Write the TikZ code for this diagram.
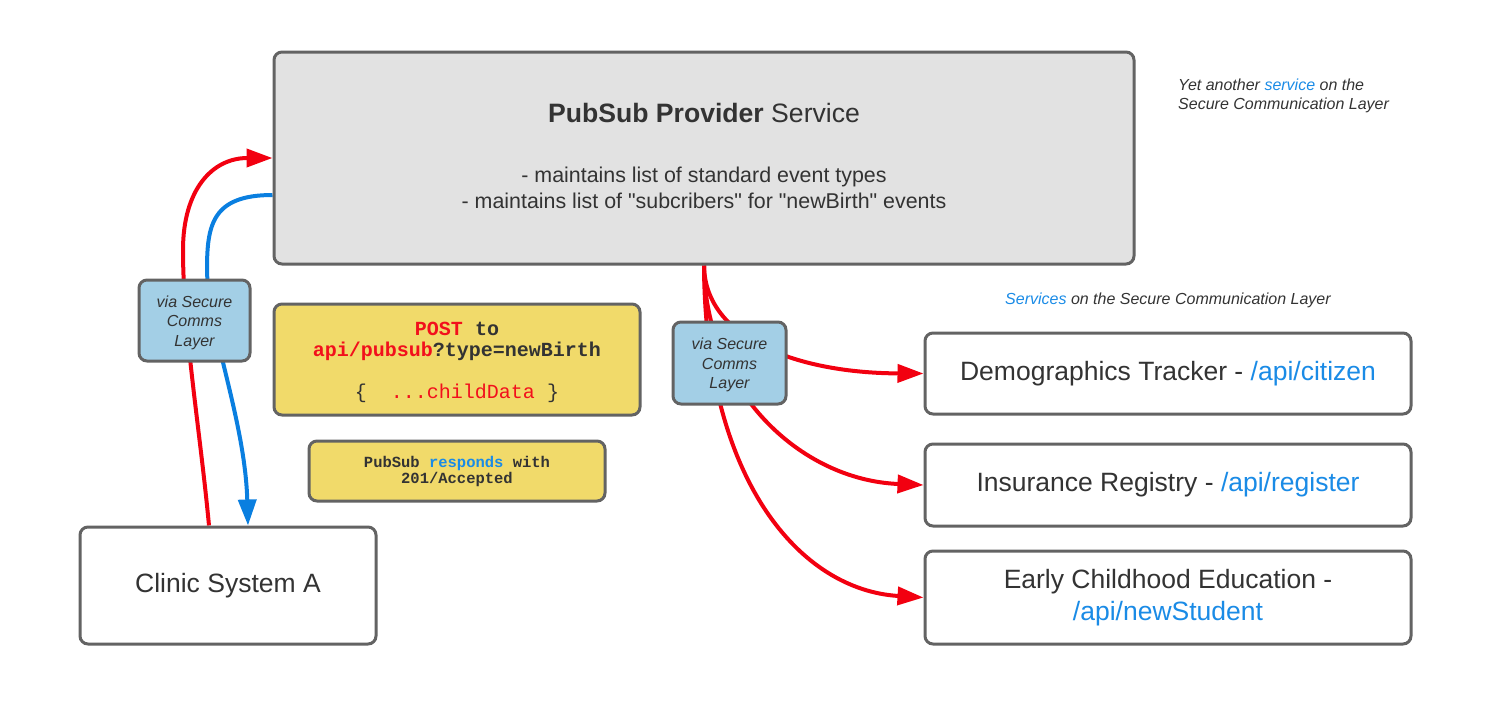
\documentclass[tikz,border=0pt]{standalone}
\usepackage{fontspec}
\setmainfont{Liberation Sans}[Ligatures=TeXOff]
\setmonofont{Liberation Mono}
\usetikzlibrary{arrows.meta}
\definecolor{boxline}{HTML}{636363}
\definecolor{greyfill}{HTML}{E2E2E2}
\definecolor{bluefill}{HTML}{A3CFE6}
\definecolor{yellowfill}{HTML}{F1DA6A}
\definecolor{txtc}{HTML}{333333}
\definecolor{linkblue}{HTML}{1A8BE6}
\definecolor{redtxt}{HTML}{F2101C}
\definecolor{arrred}{HTML}{F20010}
\definecolor{arrblue}{HTML}{0A7FE0}
\pgfdeclarelayer{bg}
\pgfsetlayers{bg,main}
\tikzset{
  boxbase/.style={draw=boxline, line width=3pt, rounded corners=8pt, inner sep=0pt, text=txtc},
  whitebox/.style={boxbase, fill=white, align=center},
  viabox/.style={boxbase, fill=bluefill, align=center, minimum width=111pt, minimum height=81pt,
    font=\fontsize{16}{19.5}\selectfont\itshape},
  notebox/.style={boxbase, fill=yellowfill, align=center},
  txt/.style={inner sep=0pt, text=txtc},
  redarr/.style={draw=arrred, line width=4pt, -{Triangle[length=26pt,width=18pt]}},
  bluearr/.style={draw=arrblue, line width=4pt, -{Triangle[length=26pt,width=18pt]}},
}
\begin{document}
\begin{tikzpicture}[x=1pt,y=-1pt]
\useasboundingbox (0,0) rectangle (1497,710);
% main service box
\node[boxbase, fill=greyfill, minimum width=860pt, minimum height=212pt] (main) at (704,158) {};
\node[txt, font=\fontsize{26.6}{30}\selectfont] (title) at (704,113) {\textbf{PubSub Provider} Service};
\node[txt, align=center, font=\fontsize{21.4}{26}\selectfont] (bullets) at (704,188)
  {- maintains list of standard event types\\- maintains list of "subcribers" for "newBirth" events};
% side notes
\node[txt, anchor=west, align=left, font=\fontsize{16}{19}\selectfont\itshape] (note1) at (1178,95.5)
  {Yet another \textcolor{linkblue}{service} on the\\Secure Communication Layer};
\node[txt, anchor=west, font=\fontsize{16}{19}\selectfont\itshape] (note2) at (1005,300)
  {\textcolor{linkblue}{Services} on the Secure Communication Layer};
% via boxes
\node[viabox] (via1) at (194.5,320.5) {\rule{0pt}{16pt}via Secure\\Comms\\Layer};
\node[viabox, minimum width=113pt, minimum height=82pt] (via2) at (729.5,363) {\rule{0pt}{16pt}via Secure\\Comms\\Layer};
% yellow notes
\node[notebox, minimum width=366pt, minimum height=111pt, font=\fontsize{20}{21}\selectfont\ttfamily] (post) at (457,359.5)
  {\rule{0pt}{19pt}\textbf{\textcolor{redtxt}{POST} to}\\\textbf{\textcolor{redtxt}{api/pubsub}?type=newBirth}\\[21pt]\{\ \ \textcolor{redtxt}{...childData} \}};
\node[notebox, minimum width=296pt, minimum height=60pt, font=\fontsize{15.5}{16}\selectfont\ttfamily\bfseries] (resp) at (457,471)
  {PubSub \textcolor{linkblue}{responds} with\\201/Accepted};
% client and services
\node[whitebox, minimum width=296pt, minimum height=117pt, font=\fontsize{26.5}{30}\selectfont] (clinic) at (228,585.5) {Clinic System A};
\node[whitebox, minimum width=486pt, minimum height=81pt, font=\fontsize{26.5}{32}\selectfont] (demo) at (1168,373.5)
  {Demographics Tracker - \textcolor{linkblue}{/api/citizen}};
\node[whitebox, minimum width=486pt, minimum height=82pt, font=\fontsize{26.5}{32}\selectfont] (ins) at (1168,485)
  {Insurance Registry - \textcolor{linkblue}{/api/register}};
\node[whitebox, minimum width=486pt, minimum height=93pt, font=\fontsize{26.5}{32}\selectfont] (early) at (1168,597.5)
  {Early Childhood Education -\\\textcolor{linkblue}{/api/newStudent}};
% connectors
\begin{pgfonlayer}{bg}
\draw[redarr] ([xshift=-19pt]clinic.north) .. controls (200,430) and (183,330) .. (183,250)
  .. controls (183,190) and (212,158) .. (main.west);
\draw[bluearr] ([yshift=-37pt]main.west) .. controls (212,195) and (207,225) .. (207,270)
  .. controls (208,330) and (245,420) .. ([xshift=20pt]clinic.north);
\draw[redarr] (main.south) .. controls (705,340) and (800,373) .. (demo.west);
\draw[redarr] (main.south) .. controls (705,390) and (800,480) .. (ins.west);
\draw[redarr] (main.south) .. controls (705,480) and (800,590) .. (early.west);
\end{pgfonlayer}
\end{tikzpicture}
\end{document}
